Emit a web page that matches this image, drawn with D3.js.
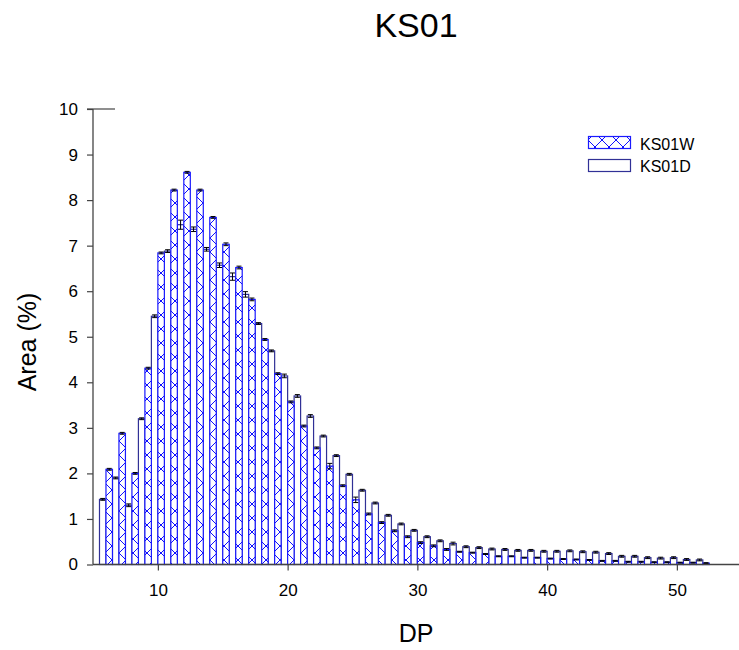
<!DOCTYPE html>
<html>
<head>
<meta charset="utf-8">
<script src="https://cdn.jsdelivr.net/npm/d3@7"></script>
<style>
  html, body { margin: 0; padding: 0; background: #fff; }
  svg { display: block; font-family: "Liberation Sans", Arial, sans-serif; }
</style>
</head>
<body>
<svg id="chart" width="739" height="650"></svg>
<script>
const dp = [6,7,8,9,10,11,12,13,14,15,16,17,18,19,20,21,22,23,24,25,26,27,28,29,30,
            31,32,33,34,35,36,37,38,39,40,41,42,43,44,45,46,47,48,49,50,51,52];
const ks01W = [2.09,2.88,2.00,4.31,6.84,8.22,8.61,8.22,7.62,7.03,6.52,5.82,4.94,4.19,3.57,
               3.04,2.56,2.16,1.73,1.42,1.11,0.92,0.74,0.61,0.48,0.41,0.33,0.28,0.26,0.23,
               0.18,0.18,0.15,0.15,0.13,0.12,0.11,0.10,0.08,0.08,0.06,0.06,0.05,0.05,0.04,0.04,0.03];
const ks01D = [1.43,1.90,1.30,3.20,5.45,6.88,7.46,7.36,6.92,6.57,6.32,5.93,5.29,4.69,4.14,
               3.70,3.26,2.82,2.39,1.98,1.63,1.35,1.08,0.89,0.75,0.61,0.52,0.46,0.39,0.37,
               0.34,0.33,0.31,0.31,0.29,0.29,0.30,0.28,0.27,0.24,0.18,0.18,0.15,0.14,0.15,0.11,0.10];
const errW = [0.02,0.02,0.02,0.02,0.02,0.02,0.02,0.02,0.02,0.03,0.03,0.03,0.02,0.02,0.02,
              0.02,0.02,0.06,0.02,0.06,0.02,0.02,0.02,0.02,0.02,0.02,0.02,0.01,0.01,0.01,
              0.01,0.01,0.01,0.01,0.01,0.01,0.01,0.01,0.01,0.01,0.01,0.01,0.01,0.01,0.01,0.01,0.01];
const errD = [0.02,0.02,0.03,0.02,0.03,0.03,0.10,0.05,0.04,0.05,0.08,0.06,0.02,0.02,0.04,
              0.03,0.03,0.02,0.02,0.02,0.02,0.02,0.02,0.02,0.02,0.02,0.02,0.03,0.02,0.02,
              0.02,0.02,0.02,0.02,0.02,0.02,0.02,0.02,0.02,0.02,0.02,0.02,0.02,0.02,0.02,0.02,0.02];
const xTicks = [10,20,30,40,50];
const yTicks = [0,1,2,3,4,5,6,7,8,9,10];
const seriesNames = ["KS01W","KS01D"];

const svg = d3.select("#chart");
const x = d3.scaleLinear().domain([5,55]).range([93, 741.75]);
const y = d3.scaleLinear().domain([0,10]).range([564.5, 109]);
const half = 0.5;

// hatch pattern
const defs = svg.append("defs");
const pat = defs.append("pattern").attr("id","hatch").attr("patternUnits","userSpaceOnUse")
  .attr("width",14).attr("height",14);
pat.append("rect").attr("width",14).attr("height",14).attr("fill","#fff");
pat.append("path").attr("d","M0,0L14,14M14,0L0,14M-1,13L1,15M13,-1L15,1M-1,1L1,-1M13,15L15,13")
  .attr("stroke","#1010ff").attr("stroke-width",1).attr("fill","none");

const data = dp.map((d,i)=>({dp:d, w:ks01W[i], dd:ks01D[i], ew:errW[i], ed:errD[i]}));

// D bars (left of each DP)
const gBars = svg.append("g");
gBars.selectAll("rect.d").data(data).join("rect").attr("class","d")
  .attr("x", d=>x(d.dp-half)).attr("width", d=>x(d.dp)-x(d.dp-half))
  .attr("y", d=>y(d.dd)).attr("height", d=>y(0)-y(d.dd))
  .attr("fill","#fff").attr("stroke","#303096").attr("stroke-width",1.2);
// W bars (right of each DP)
gBars.selectAll("rect.w").data(data).join("rect").attr("class","w")
  .attr("x", d=>x(d.dp)).attr("width", d=>x(d.dp+half)-x(d.dp))
  .attr("y", d=>y(d.w)).attr("height", d=>y(0)-y(d.w))
  .attr("fill","url(#hatch)").attr("stroke","#1a1aff").attr("stroke-width",1.2);

// error bars
const gErr = svg.append("g").attr("stroke","#000").attr("stroke-width",1).attr("fill","none");
function errBar(cx, v, e){
  const g = gErr.append("g");
  g.append("line").attr("x1",cx).attr("x2",cx).attr("y1",y(v-e)).attr("y2",y(v+e));
  g.append("line").attr("x1",cx-2.5).attr("x2",cx+2.5).attr("y1",y(v+e)).attr("y2",y(v+e));
  g.append("line").attr("x1",cx-2.5).attr("x2",cx+2.5).attr("y1",y(v-e)).attr("y2",y(v-e));
}
data.forEach(d=>{
  errBar(x(d.dp-half/2), d.dd, d.ed);
  errBar(x(d.dp+half/2), d.w, d.ew);
});

// axes
const axisColor = "#444";
const xAxis = svg.append("g").attr("transform",`translate(0,${y(0)})`)
  .call(d3.axisBottom(x).tickValues(xTicks).tickSize(6).tickPadding(13).tickFormat(d3.format("d")));
const yAxis = svg.append("g").attr("transform",`translate(${x(5)},0)`)
  .call(d3.axisLeft(y).tickValues(yTicks).tickSize(6).tickPadding(9).tickFormat(d3.format("d")));
[xAxis, yAxis].forEach(a=>{
  a.select(".domain").attr("stroke",axisColor).attr("stroke-width",1.3);
  a.selectAll(".tick line").attr("stroke",axisColor).attr("stroke-width",1.2);
  a.selectAll(".tick text").attr("fill","#000").style("font-size","17px")
    .style("font-family","'Liberation Sans', Arial, sans-serif");
});
xAxis.select(".domain").attr("d",`M${x(5)},0H739`);
yAxis.select(".domain").attr("d",`M0,${y(0)}V${y(10)}`);
// top marker line at 10
svg.append("line").attr("x1",x(5)-6).attr("x2",x(5)+22).attr("y1",y(10)).attr("y2",y(10))
  .attr("stroke",axisColor).attr("stroke-width",1.2);

// titles
svg.append("text").attr("x",416).attr("y",37).attr("text-anchor","middle")
  .style("font-size","34px").text("KS01");
svg.append("text").attr("x",416).attr("y",642).attr("text-anchor","middle")
  .style("font-size","25px").text("DP");
svg.append("text").attr("transform",`translate(36,342) rotate(-90)`).attr("text-anchor","middle")
  .style("font-size","25px").text("Area (%)");

// legend
const leg = svg.append("g");
leg.append("rect").attr("x",588.5).attr("y",136.5).attr("width",42).attr("height",12)
  .attr("fill","url(#hatch)").attr("stroke","#1a1aff").attr("stroke-width",1.2);
leg.append("rect").attr("x",588.5).attr("y",159.5).attr("width",42).attr("height",12)
  .attr("fill","#fff").attr("stroke","#303096").attr("stroke-width",1.2);
leg.append("text").attr("x",640).attr("y",150).style("font-size","16px").text(seriesNames[0]);
leg.append("text").attr("x",640).attr("y",172).style("font-size","16px").text(seriesNames[1]);
</script>
</body>
</html>
